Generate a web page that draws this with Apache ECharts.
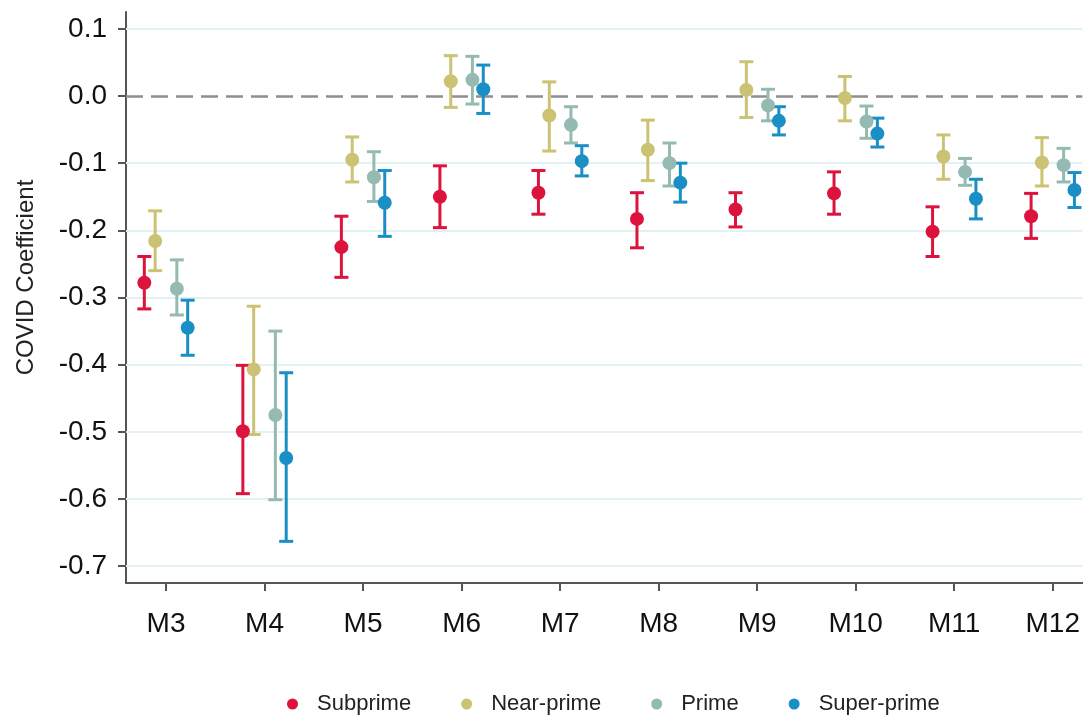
<!DOCTYPE html>
<html>
<head>
<meta charset="utf-8">
<script src="https://cdn.jsdelivr.net/npm/echarts@6/dist/echarts.min.js"></script>
<style>
  html, body { margin: 0; padding: 0; background: #fff; }
  #chart { width: 1083px; height: 717px; }
</style>
</head>
<body>
<div id="chart"></div>
<script>
// months on the x axis (M3..M12 -> 3..12)
var months = [3, 4, 5, 6, 7, 8, 9, 10, 11, 12];
var yTicks = [-0.7, -0.6, -0.5, -0.4, -0.3, -0.2, -0.1, 0.0, 0.1];

// point estimates and 95% bounds
var subEst = [-0.278, -0.499, -0.225, -0.150, -0.144, -0.183, -0.169, -0.145, -0.202, -0.179];
var subLo  = [-0.317, -0.592, -0.270, -0.196, -0.176, -0.226, -0.195, -0.176, -0.239, -0.212];
var subHi  = [-0.239, -0.401, -0.179, -0.104, -0.111, -0.144, -0.144, -0.113, -0.165, -0.145];

var nearEst = [-0.216, -0.407, -0.095, 0.022, -0.029, -0.080, 0.009, -0.003, -0.090, -0.099];
var nearLo  = [-0.260, -0.504, -0.128, -0.017, -0.082, -0.126, -0.032, -0.037, -0.124, -0.134];
var nearHi  = [-0.171, -0.313, -0.061, 0.060, 0.021, -0.036, 0.051, 0.029, -0.058, -0.062];

var primeEst = [-0.287, -0.475, -0.121, 0.024, -0.043, -0.100, -0.014, -0.038, -0.113, -0.103];
var primeLo  = [-0.326, -0.601, -0.157, -0.012, -0.070, -0.134, -0.037, -0.063, -0.133, -0.128];
var primeHi  = [-0.244, -0.350, -0.083, 0.059, -0.016, -0.070, 0.010, -0.015, -0.093, -0.078];

var superEst = [-0.345, -0.539, -0.159, 0.010, -0.097, -0.129, -0.037, -0.056, -0.153, -0.140];
var superLo  = [-0.386, -0.663, -0.209, -0.026, -0.119, -0.158, -0.058, -0.076, -0.183, -0.166];
var superHi  = [-0.304, -0.412, -0.111, 0.046, -0.074, -0.100, -0.016, -0.033, -0.124, -0.114];

var groups = [
  { name: "Subprime",    color: "#dc133c", shift: -0.22, est: subEst,   lo: subLo,   hi: subHi },
  { name: "Near-prime",  color: "#ccc274", shift: -0.11, est: nearEst,  lo: nearLo,  hi: nearHi },
  { name: "Prime",       color: "#95bab1", shift: 0.11,  est: primeEst, lo: primeLo, hi: primeHi },
  { name: "Super-prime", color: "#1a8fc5", shift: 0.22,  est: superEst, lo: superLo, hi: superHi }
];

var font = "'Liberation Sans', Arial, sans-serif";
var myChart = echarts.init(document.getElementById("chart"));

var series = [];
// grid lines + zero line (kept under the marks)
series.push({
  type: "line",
  data: [],
  silent: true,
  z: 1,
  markLine: {
    silent: true,
    z: 1,
    symbol: "none",
    label: { show: false },
    animation: false,
    data: yTicks.map(function (t) {
      return {
        yAxis: t,
        lineStyle: t === 0
          ? { color: "#8e8e8e", width: 2.5, type: [17, 8] }
          : { color: "#e2f1f3", width: 2, type: "solid" }
      };
    })
  }
});

groups.forEach(function (g) {
  var barData = months.map(function (m, i) {
    return [m + g.shift, g.lo[i], g.hi[i]];
  });
  series.push({
    name: g.name,
    type: "custom",
    z: 3,
    itemStyle: { color: g.color },
    renderItem: function (params, api) {
      var x = api.value(0);
      var lo = api.coord([x, api.value(1)]);
      var hi = api.coord([x, api.value(2)]);
      var cap = 7;
      var style = { stroke: g.color, lineWidth: 3, fill: null };
      return {
        type: "group",
        children: [
          { type: "line", shape: { x1: lo[0], y1: lo[1], x2: hi[0], y2: hi[1] }, style: style },
          { type: "line", shape: { x1: lo[0] - cap, y1: lo[1], x2: lo[0] + cap, y2: lo[1] }, style: style },
          { type: "line", shape: { x1: hi[0] - cap, y1: hi[1], x2: hi[0] + cap, y2: hi[1] }, style: style }
        ]
      };
    },
    encode: { x: 0, y: [1, 2] },
    data: barData
  });
  series.push({
    name: g.name,
    type: "scatter",
    z: 4,
    symbol: "circle",
    symbolSize: 14,
    itemStyle: { color: g.color, opacity: 1 },
    data: months.map(function (m, i) {
      return [m + g.shift, g.est[i]];
    })
  });
});

var option = {
  animation: false,
  textStyle: { fontFamily: font },
  grid: { left: 126, right: 0, top: 12, bottom: 134 },
  legend: {
    left: 282,
    top: 688,
    icon: "circle",
    itemWidth: 11,
    itemHeight: 11,
    itemGap: 50,
    data: groups.map(function (g) { return { name: g.name, icon: "circle", itemStyle: { color: g.color } }; }),
    textStyle: { fontSize: 22, color: "#222", fontFamily: font, padding: [0, 0, 0, 14] }
  },
  xAxis: {
    type: "value",
    min: 2.594,
    max: 12.30,
    axisLine: { show: true, onZero: false, lineStyle: { color: "#555", width: 2 } },
    axisTick: { show: true, length: 8, customValues: months, lineStyle: { color: "#555", width: 2 } },
    axisLabel: {
      customValues: months,
      margin: 27,
      fontSize: 28,
      color: "#111",
      fontFamily: font,
      formatter: function (v) { return "M" + v; }
    },
    splitLine: { show: false }
  },
  yAxis: {
    type: "value",
    min: -0.725,
    max: 0.125,
    name: "COVID Coefficient",
    nameLocation: "middle",
    nameGap: 88,
    nameTextStyle: { fontSize: 24, color: "#222", fontFamily: font, padding: [0, 0, 0, 40] },
    axisLine: { show: true, lineStyle: { color: "#555", width: 2 } },
    axisTick: { show: true, length: 8, customValues: yTicks, lineStyle: { color: "#555", width: 2 } },
    axisLabel: {
      customValues: yTicks,
      margin: 19,
      fontSize: 28,
      color: "#111",
      fontFamily: font,
      formatter: function (v) { return v.toFixed(1); }
    },
    splitLine: { show: false }
  },
  series: series
};

myChart.setOption(option);
</script>
</body>
</html>
